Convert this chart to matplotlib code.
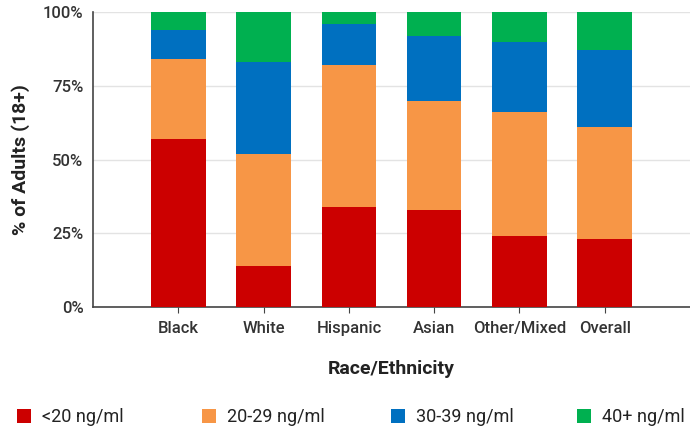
import matplotlib

matplotlib.use("Agg")
import matplotlib.pyplot as plt
import numpy as np
from matplotlib.patches import Patch

plt.rcParams["font.family"] = ["Roboto", "DejaVu Sans"]

groups = ["Black", "White", "Hispanic", "Asian", "Other/Mixed", "Overall"]
levels = ["<20 ng/ml", "20-29 ng/ml", "30-39 ng/ml", "40+ ng/ml"]
below_20 = [57, 14, 34, 33, 24, 23]
from_20_29 = [27, 38, 48, 37, 42, 38]
from_30_39 = [10, 31, 14, 22, 24, 26]
above_40 = [6, 17, 4, 8, 10, 13]
colors = ["#CC0000", "#F79646", "#0070C0", "#00B050"]

series = [below_20, from_20_29, from_30_39, above_40]

fig = plt.figure(figsize=(6.9, 4.3), dpi=100)
ax = fig.add_axes([0.135, 0.286, 0.865, 0.686])

x = np.arange(len(groups))
bottom = np.zeros(len(groups))
for vals, color in zip(series, colors):
    vals = np.array(vals, dtype=float)
    ax.bar(x, vals, bottom=bottom, width=0.64, color=color, zorder=3)
    bottom += vals

ax.set_xlim(-1, 6)
ax.set_ylim(0, 100)
ax.set_yticks([0, 25, 50, 75, 100])
ax.set_yticklabels(["0%", "25%", "50%", "75%", "100%"])
ax.set_xticks(x)
ax.set_xticklabels(groups)
ax.grid(axis="y", color="#E3E3E3", linewidth=1.0, zorder=0)
for side in ["top", "right"]:
    ax.spines[side].set_visible(False)
ax.spines["left"].set_color("#444444")
ax.spines["bottom"].set_color("#444444")
ax.spines["left"].set_linewidth(1.2)
ax.spines["bottom"].set_linewidth(1.2)
ax.tick_params(axis="y", length=0, pad=7, labelsize=12, labelcolor="#333333")
ax.tick_params(axis="x", length=4, color="#444444", pad=6, labelsize=12, labelcolor="#333333")
for lab in ax.get_yticklabels() + ax.get_xticklabels():
    lab.set_fontweight("medium")

ax.set_ylabel("% of Adults (18+)", fontsize=14, fontweight="bold", color="#222222", labelpad=9)
ax.set_xlabel("Race/Ethnicity", fontsize=14, fontweight="bold", color="#222222", labelpad=17)

# legend entries sit at fixed pixel starts along the bottom
legend_x = [17, 202, 391, 577]
for label, color, px in zip(levels, colors, legend_x):
    fig.legend(
        [Patch(facecolor=color, edgecolor="none")],
        [label],
        loc="center left",
        bbox_to_anchor=(px / 690, 1 - 417 / 430),
        frameon=False,
        fontsize=13,
        borderpad=0,
        borderaxespad=0,
        handlelength=0.8,
        handleheight=0.8,
        handletextpad=0.6,
        labelcolor="#222222",
    )

fig.savefig("out.png", dpi=100)
